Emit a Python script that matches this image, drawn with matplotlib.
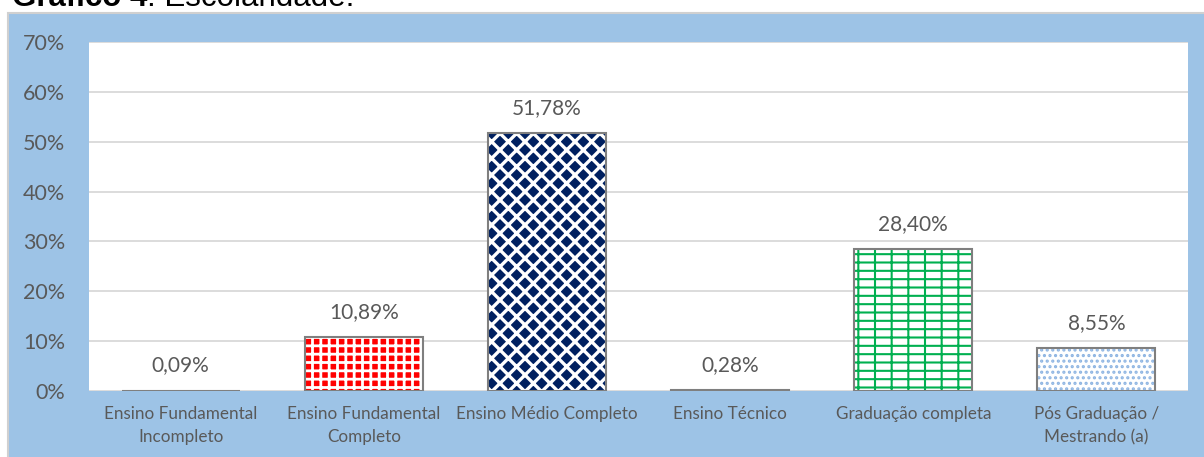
import matplotlib
matplotlib.use("Agg")
import matplotlib as mpl
import matplotlib.pyplot as plt
from matplotlib.patches import Rectangle

# Dados do grafico
categorias = ["Ensino Fundamental\nIncompleto", "Ensino Fundamental\nCompleto",
              "Ensino Médio Completo", "Ensino Técnico", "Graduação completa",
              "Pós Graduação /\nMestrando (a)"]
valores = [0.09, 10.89, 51.78, 0.28, 28.40, 8.55]
rotulos = ["0,09%", "10,89%", "51,78%", "0,28%", "28,40%", "8,55%"]
yticks = [0, 10, 20, 30, 40, 50, 60, 70]

# Estilo de cada barra: cor de fundo, cor da trama, trama, espessura da trama
fundos = ["#FFFFFF", "#FF0000", "#002060", "#FFFFFF", "#FFFFFF", "#FFFFFF"]
cores_trama = ["#7F7F7F", "#FFFFFF", "#FFFFFF", "#7F7F7F", "#00B050", "#8DB4E2"]
tramas = ["", "++", "xx", "", "--|", "..."]
larguras_trama = [1.0, 2.0, 2.4, 1.0, 1.5, 1.5]

cinza_texto = "#595959"
azul_fundo = "#9DC3E6"

fig = plt.figure(figsize=(12.04, 4.57), dpi=100)
fig.patch.set_facecolor("white")

# Moldura azul do grafico
moldura = Rectangle((8 / 1204, -0.05), 1.1, 1 - 13 / 457 + 0.05,
                    transform=fig.transFigure, facecolor=azul_fundo,
                    edgecolor="#D0D0D0", linewidth=1.5, zorder=-5)
fig.patches.append(moldura)

ax = fig.add_axes([89 / 1204, 1 - 391 / 457, (1188 - 89) / 1204, (391 - 42) / 457])
ax.set_facecolor("white")
ax.set_zorder(2)

x = list(range(len(valores)))
for i in x:
    with mpl.rc_context({"hatch.linewidth": larguras_trama[i]}):
        b = ax.bar(x[i], valores[i], width=0.645, color=fundos[i],
                   edgecolor=cores_trama[i], hatch=tramas[i], linewidth=0, zorder=2)
    for p in b:
        if hasattr(p, "set_hatch_linewidth"):
            p.set_hatch_linewidth(larguras_trama[i])
    # contorno cinza
    ax.bar(x[i], valores[i], width=0.645, fill=False, edgecolor="#7F7F7F",
           linewidth=1.5, zorder=3)
    ax.annotate(rotulos[i], (x[i], valores[i]), xytext=(0, 18),
                textcoords="offset points", ha="center", va="center",
                fontsize=15, color=cinza_texto, family="Lato")

ax.set_xlim(-0.5, 5.5)
ax.set_ylim(0, 70)
ax.set_yticks(yticks)
ax.set_yticklabels([f"{v}%" for v in yticks], fontsize=15.5, color=cinza_texto,
                   family="Lato")
ax.set_xticks(x)
ax.set_xticklabels(categorias, fontsize=12.3, color=cinza_texto, family="Lato",
                   linespacing=1.5)
ax.tick_params(axis="y", length=0, pad=17)
ax.tick_params(axis="x", length=0, pad=11)
ax.grid(axis="y", color="#D9D9D9", linewidth=1.3, zorder=1)
ax.set_axisbelow(True)
for s in ax.spines.values():
    s.set_visible(False)

# Titulo cortado no topo
t1 = fig.text(12 / 1204, 1 - 6 / 457, "Gráfico 4", fontsize=22.5, fontweight="bold",
              family="Liberation Sans", va="baseline", ha="left")
fig.canvas.draw()
bb = t1.get_window_extent()
fig.text(bb.x1 / 1204, 1 - 6 / 457, ": Escolaridade.", fontsize=22.5,
         family="Liberation Sans", va="baseline", ha="left")

fig.savefig("out.png", dpi=100)
